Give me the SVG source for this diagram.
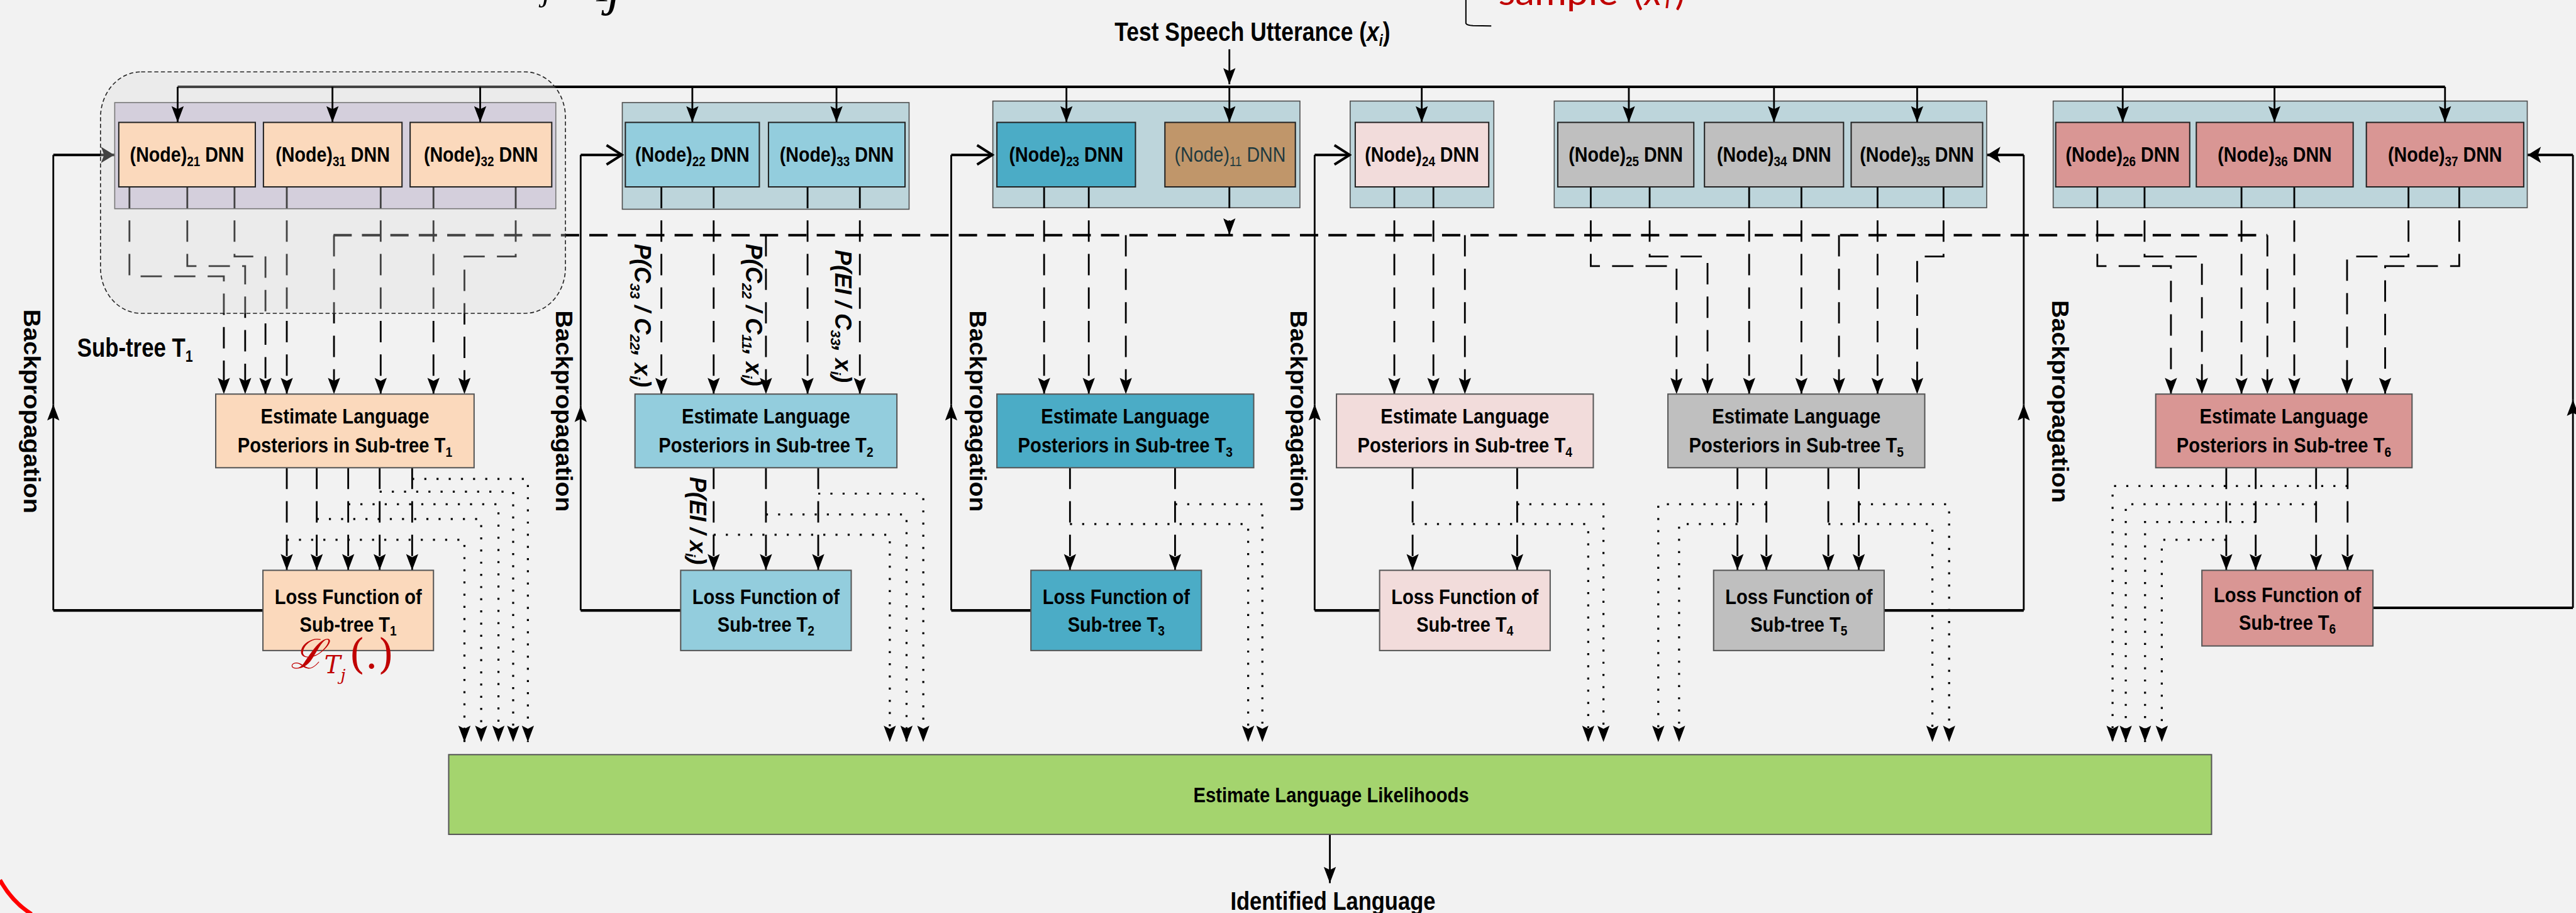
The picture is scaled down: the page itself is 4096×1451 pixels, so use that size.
<svg xmlns="http://www.w3.org/2000/svg" width="4096" height="1451" viewBox="0 0 4096 1451">
<defs>
<style>
.ct{fill:#BDD5DB;stroke:#4d4d4d;stroke-width:2}
.nd{stroke:#222;stroke-width:2.5}
.bx{stroke:#555;stroke-width:2.5}
.t{font-family:'Liberation Sans',Arial,sans-serif;font-weight:bold;font-size:41px;fill:#000}
.lbl{font-family:'Liberation Sans',Arial,sans-serif;font-weight:bold;font-style:italic;font-size:45px;fill:#000}
.bp{font-family:'Liberation Sans',Arial,sans-serif;font-weight:bold;font-size:46px;fill:#000}
.ln{fill:none;stroke:#000;stroke-width:3.5}
.up{fill:none;stroke:#000;stroke-width:3.5;marker-end:url(#ah)}
.arr{fill:none;stroke:#000;stroke-width:3.5;marker-end:url(#ah)}
.dsh{fill:none;stroke:#000;stroke-width:3.5;stroke-dasharray:42 24;marker-end:url(#ah)}
.dot{fill:none;stroke:#000;stroke-width:4;stroke-dasharray:4 20;marker-end:url(#ah)}
.thk{fill:none;stroke:#000;stroke-width:5}
.red{font-family:'DejaVu Serif','Liberation Serif',serif;font-style:italic;fill:#C00000}
</style>
<marker id="ah" markerUnits="userSpaceOnUse" viewBox="-34 -14 36 28" markerWidth="36" markerHeight="28" refX="0" refY="0" orient="auto"><path d="M0,0 L-32,-12 L-26,0 L-32,12 Z" fill="#000"/></marker>
<marker id="fa" markerUnits="userSpaceOnUse" viewBox="-30 -18 32 36" markerWidth="32" markerHeight="36" refX="0" refY="0" orient="auto"><path d="M0,0 L-26,-16 L-20,0 L-26,16 Z" fill="#000"/></marker>
<marker id="ch" markerUnits="userSpaceOnUse" viewBox="-36 -24 40 48" markerWidth="40" markerHeight="48" refX="0" refY="0" orient="auto"><path d="M-30,-19 L0,0 L-30,19" fill="none" stroke="#000" stroke-width="5"/></marker>
</defs>
<rect x="0" y="0" width="4096" height="1451" fill="#F2F2F2"/>
<g transform="scale(0.80709)">

<!-- top annotation fragments -->
<g id="annotations">
<text x="1068" y="1" font-family="'Liberation Serif',serif" font-style="italic" font-size="62" fill="#000">j</text>
<text x="1172" y="2" font-family="'Liberation Serif',serif" font-style="italic" font-size="62" fill="#000">1</text>
<text x="1196" y="9" font-family="'Liberation Serif',serif" font-style="italic" font-size="105" fill="#000">j</text>
<text x="2952" y="10" font-family="Lato,'Open Sans',sans-serif" font-size="72" fill="#C00000"><tspan textLength="236" lengthAdjust="spacingAndGlyphs">sample</tspan><tspan x="3218">(</tspan><tspan x="3240" font-style="italic">x</tspan><tspan x="3280" font-style="italic" font-size="50" dy="6">l</tspan><tspan x="3300" dy="-6">)</tspan></text>
<path d="M2888,0 V46 Q2890,50 2902,50.5 L2938,51" fill="none" stroke="#000" stroke-width="2.5"/>
<path d="M0,1733 Q24,1776 62,1800" fill="none" stroke="#FF0000" stroke-width="8"/>
</g>

<!-- containers -->
<g id="containers">
<rect x="226" y="202" width="869" height="209" fill="#D2CBDD" stroke="#4d4d4d" stroke-width="2"/>
<rect class="ct" x="1226" y="202" width="565" height="210"/>
<rect class="ct" x="1956" y="199" width="605" height="210"/>
<rect class="ct" x="2660" y="199" width="283" height="210"/>
<rect class="ct" x="3062" y="199" width="852" height="210"/>
<rect class="ct" x="4045" y="199" width="934" height="210"/>
</g>

<!-- connectors -->
<g id="connectors">
<path class="thk" d="M350,171 H4817"/>
<path class="arr" d="M2422,97 V166"/>
<path d="M657,463 H4467" fill="none" stroke="#000" stroke-width="5" stroke-dasharray="36 20"/>
<path class="dsh" d="M2422,368 V462"/>
<!-- nodes to estimates -->
<path class="dsh" d="M255,368 V544 H441 V776"/>
<path class="dsh" d="M369,368 V524 H483 V776"/>
<path class="dsh" d="M462,368 V505 H523 V776"/>
<path class="dsh" d="M565,368 V776"/>
<path class="dsh" d="M658,463 V776"/>
<path class="dsh" d="M750,368 V776"/>
<path class="dsh" d="M854,368 V776"/>
<path class="dsh" d="M1016,368 V505 H915 V776"/>
<path class="dsh" d="M1303,368 V776"/>
<path class="dsh" d="M1406,368 V776"/>
<path class="dsh" d="M1509,463 V776"/>
<path class="dsh" d="M1591,368 V776"/>
<path class="dsh" d="M1694,368 V776"/>
<path class="dsh" d="M2057,368 V776"/>
<path class="dsh" d="M2145,368 V776"/>
<path class="dsh" d="M2218,463 V776"/>
<path class="dsh" d="M2747,368 V776"/>
<path class="dsh" d="M2824,368 V776"/>
<path class="dsh" d="M2886,463 V776"/>
<path class="dsh" d="M3134,368 V524 H3303 V776"/>
<path class="dsh" d="M3250,368 V505 H3364 V776"/>
<path class="dsh" d="M3446,368 V776"/>
<path class="dsh" d="M3549,368 V776"/>
<path class="dsh" d="M3623,463 V776"/>
<path class="dsh" d="M3699,368 V776"/>
<path class="dsh" d="M3829,368 V505 H3777 V776"/>
<path class="dsh" d="M4132,368 V524 H4277 V776"/>
<path class="dsh" d="M4225,368 V505 H4338 V776"/>
<path class="dsh" d="M4416,368 V776"/>
<path class="dsh" d="M4467,463 V776"/>
<path class="dsh" d="M4520,368 V776"/>
<path class="dsh" d="M4745,368 V505 H4624 V776"/>
<path class="dsh" d="M4845,368 V524 H4699 V776"/>
<!-- estimates to losses -->
<path class="dsh" d="M565,921 V1123"/>
<path class="dsh" d="M624,921 V1123"/>
<path class="dsh" d="M686,921 V1123"/>
<path class="dsh" d="M748,921 V1123"/>
<path class="dsh" d="M812,921 V1123"/>
<path class="dsh" d="M1406,921 V1123"/>
<path class="dsh" d="M1509,921 V1123"/>
<path class="dsh" d="M1612,921 V1123"/>
<path class="dsh" d="M2108,921 V1123"/>
<path class="dsh" d="M2315,921 V1123"/>
<path class="dsh" d="M2783,921 V1123"/>
<path class="dsh" d="M2989,921 V1123"/>
<path class="dsh" d="M3423,921 V1123"/>
<path class="dsh" d="M3480,921 V1123"/>
<path class="dsh" d="M3602,921 V1123"/>
<path class="dsh" d="M3662,921 V1123"/>
<path class="dsh" d="M4386,921 V1123"/>
<path class="dsh" d="M4444,921 V1123"/>
<path class="dsh" d="M4563,921 V1123"/>
<path class="dsh" d="M4625,921 V1123"/>
<!-- dotted to likelihood -->
<path class="dot" d="M812,943 H1040 V1461"/>
<path class="dot" d="M748,968 H1011 V1461"/>
<path class="dot" d="M686,993 H982 V1461"/>
<path class="dot" d="M624,1022 H948 V1461"/>
<path class="dot" d="M565,1063 H915 V1461"/>
<path class="dot" d="M1612,972 H1819 V1461"/>
<path class="dot" d="M1509,1013 H1786 V1461"/>
<path class="dot" d="M1406,1053 H1753 V1461"/>
<path class="dot" d="M2315,993 H2487 V1461"/>
<path class="dot" d="M2108,1032 H2459 V1461"/>
<path class="dot" d="M2989,993 H3159 V1461"/>
<path class="dot" d="M2783,1032 H3129 V1461"/>
<path class="dot" d="M3480,993 H3267 V1461"/>
<path class="dot" d="M3423,1032 H3308 V1461"/>
<path class="dot" d="M3662,993 H3840 V1461"/>
<path class="dot" d="M3602,1032 H3807 V1461"/>
<path class="dot" d="M4625,957 H4162 V1461"/>
<path class="dot" d="M4563,993 H4188 V1461"/>
<path class="dot" d="M4444,1028 H4226 V1461"/>
<path class="dot" d="M4386,1063 H4259 V1461"/>
<path class="arr" d="M2620,1643 V1739"/>
<!-- backpropagation -->
<path class="thk" d="M518,1202 H105"/>
<path class="up" d="M105,1202 V796"/>
<path class="ln" d="M105,796 V305"/>
<path class="thk" d="M105,305 H225" marker-end="url(#fa)"/>
<path class="thk" d="M1341,1202 H1144"/>
<path class="up" d="M1144,1202 V799"/>
<path class="ln" d="M1144,799 V305"/>
<path class="thk" d="M1144,305 H1225" marker-end="url(#ch)"/>
<path class="thk" d="M2031,1202 H1874"/>
<path class="up" d="M1874,1202 V796"/>
<path class="ln" d="M1874,796 V305"/>
<path class="thk" d="M1874,305 H1955" marker-end="url(#ch)"/>
<path class="thk" d="M2718,1202 H2590"/>
<path class="up" d="M2590,1202 V796"/>
<path class="ln" d="M2590,796 V305"/>
<path class="thk" d="M2590,305 H2659" marker-end="url(#ch)"/>
<path class="thk" d="M3712,1202 H3987"/>
<path class="up" d="M3987,1202 V796"/>
<path class="ln" d="M3987,796 V305"/>
<path class="thk" d="M3987,305 H3915" marker-end="url(#fa)"/>
<path class="thk" d="M4675,1197 H5069"/>
<path class="up" d="M5069,1197 V787"/>
<path class="ln" d="M5069,787 V305"/>
<path class="thk" d="M5069,305 H4980" marker-end="url(#fa)"/>
</g>

<!-- sub-tree T1 grouping overlay -->
<g id="subtree-t1">
<rect x="198" y="141.5" width="916" height="475.5" rx="80" ry="90" fill="#D9D9D9" fill-opacity="0.3" stroke="#222" stroke-width="2" stroke-dasharray="8 5"/>
<text class="t" x="152" y="702" style="font-size:52px" textLength="228" lengthAdjust="spacingAndGlyphs">Sub-tree T<tspan dy="10" font-size="32">1</tspan></text>
</g>

<!-- bus arrows into nodes -->
<g id="bus-arrows">
<path class="arr" d="M350,171 V241"/>
<path class="arr" d="M655,171 V241"/>
<path class="arr" d="M946,171 V241"/>
<path class="arr" d="M1364,171 V241"/>
<path class="arr" d="M1648,171 V241"/>
<path class="arr" d="M2101,171 V241"/>
<path class="arr" d="M2422,171 V241"/>
<path class="arr" d="M2801,171 V241"/>
<path class="arr" d="M3209,171 V241"/>
<path class="arr" d="M3495,171 V241"/>
<path class="arr" d="M3777,171 V241"/>
<path class="arr" d="M4182,171 V241"/>
<path class="arr" d="M4481,171 V241"/>
<path class="arr" d="M4817,171 V241"/>
</g>

<g id="input-label"><text class="t" x="2196" y="81" style="font-size:52px" textLength="543" lengthAdjust="spacingAndGlyphs">Test Speech Utterance (<tspan font-style="italic">x</tspan><tspan font-style="italic" dy="9" font-size="32">i</tspan><tspan dy="-9">)</tspan></text></g>

<!-- DNN nodes -->
<g id="n21"><rect class="nd" x="234" y="241" width="269" height="127" fill="#FBD9BC"/><text class="t" x="256" y="319" textLength="225" lengthAdjust="spacingAndGlyphs">(Node)<tspan dy="8" font-size="27">21</tspan><tspan dy="-8"> DNN</tspan></text></g>
<g id="n31"><rect class="nd" x="519" y="241" width="273" height="127" fill="#FBD9BC"/><text class="t" x="543" y="319" textLength="225" lengthAdjust="spacingAndGlyphs">(Node)<tspan dy="8" font-size="27">31</tspan><tspan dy="-8"> DNN</tspan></text></g>
<g id="n32"><rect class="nd" x="808" y="241" width="279" height="127" fill="#FBD9BC"/><text class="t" x="835" y="319" textLength="225" lengthAdjust="spacingAndGlyphs">(Node)<tspan dy="8" font-size="27">32</tspan><tspan dy="-8"> DNN</tspan></text></g>
<g id="n22"><rect class="nd" x="1232" y="241" width="264" height="127" fill="#93CDDD"/><text class="t" x="1251.5" y="319" textLength="225" lengthAdjust="spacingAndGlyphs">(Node)<tspan dy="8" font-size="27">22</tspan><tspan dy="-8"> DNN</tspan></text></g>
<g id="n33"><rect class="nd" x="1514" y="241" width="269" height="127" fill="#93CDDD"/><text class="t" x="1536" y="319" textLength="225" lengthAdjust="spacingAndGlyphs">(Node)<tspan dy="8" font-size="27">33</tspan><tspan dy="-8"> DNN</tspan></text></g>
<g id="n23"><rect class="nd" x="1964" y="241" width="273" height="127" fill="#4BACC6"/><text class="t" x="1988" y="319" textLength="225" lengthAdjust="spacingAndGlyphs">(Node)<tspan dy="8" font-size="27">23</tspan><tspan dy="-8"> DNN</tspan></text></g>
<g id="n11"><rect class="nd" x="2295" y="241" width="257" height="127" fill="#C0966A"/><text class="t" x="2314" y="319" style="font-weight:normal;fill:#1F3A3F" textLength="219" lengthAdjust="spacingAndGlyphs">(Node)<tspan dy="8" font-size="27">11</tspan><tspan dy="-8"> DNN</tspan></text></g>
<g id="n24"><rect class="nd" x="2670" y="241" width="263" height="127" fill="#F2DCDB"/><text class="t" x="2689" y="319" textLength="225" lengthAdjust="spacingAndGlyphs">(Node)<tspan dy="8" font-size="27">24</tspan><tspan dy="-8"> DNN</tspan></text></g>
<g id="n25"><rect class="nd" x="3069" y="241" width="268" height="127" fill="#BFBFBF"/><text class="t" x="3090.5" y="319" textLength="225" lengthAdjust="spacingAndGlyphs">(Node)<tspan dy="8" font-size="27">25</tspan><tspan dy="-8"> DNN</tspan></text></g>
<g id="n34"><rect class="nd" x="3358" y="241" width="274" height="127" fill="#BFBFBF"/><text class="t" x="3382.5" y="319" textLength="225" lengthAdjust="spacingAndGlyphs">(Node)<tspan dy="8" font-size="27">34</tspan><tspan dy="-8"> DNN</tspan></text></g>
<g id="n35"><rect class="nd" x="3647" y="241" width="259" height="127" fill="#BFBFBF"/><text class="t" x="3664" y="319" textLength="225" lengthAdjust="spacingAndGlyphs">(Node)<tspan dy="8" font-size="27">35</tspan><tspan dy="-8"> DNN</tspan></text></g>
<g id="n26"><rect class="nd" x="4050" y="241" width="264" height="127" fill="#D99694"/><text class="t" x="4069.5" y="319" textLength="225" lengthAdjust="spacingAndGlyphs">(Node)<tspan dy="8" font-size="27">26</tspan><tspan dy="-8"> DNN</tspan></text></g>
<g id="n36"><rect class="nd" x="4327" y="241" width="309" height="127" fill="#D99694"/><text class="t" x="4369" y="319" textLength="225" lengthAdjust="spacingAndGlyphs">(Node)<tspan dy="8" font-size="27">36</tspan><tspan dy="-8"> DNN</tspan></text></g>
<g id="n37"><rect class="nd" x="4662" y="241" width="310" height="127" fill="#D99694"/><text class="t" x="4704.5" y="319" textLength="225" lengthAdjust="spacingAndGlyphs">(Node)<tspan dy="8" font-size="27">37</tspan><tspan dy="-8"> DNN</tspan></text></g>

<!-- estimate boxes -->
<g id="e1"><rect class="bx" x="425" y="776" width="509" height="145" fill="#FBD9BC"/><text class="t" x="513.5" y="834" textLength="332" lengthAdjust="spacingAndGlyphs">Estimate Language</text><text class="t" x="468" y="891" textLength="423" lengthAdjust="spacingAndGlyphs">Posteriors in Sub-tree T<tspan dy="8" font-size="27">1</tspan></text></g>
<g id="e2"><rect class="bx" x="1251" y="776" width="516" height="145" fill="#93CDDD"/><text class="t" x="1343" y="834" textLength="332" lengthAdjust="spacingAndGlyphs">Estimate Language</text><text class="t" x="1297.5" y="891" textLength="423" lengthAdjust="spacingAndGlyphs">Posteriors in Sub-tree T<tspan dy="8" font-size="27">2</tspan></text></g>
<g id="e3"><rect class="bx" x="1964" y="776" width="506" height="145" fill="#4BACC6"/><text class="t" x="2051" y="834" textLength="332" lengthAdjust="spacingAndGlyphs">Estimate Language</text><text class="t" x="2005.5" y="891" textLength="423" lengthAdjust="spacingAndGlyphs">Posteriors in Sub-tree T<tspan dy="8" font-size="27">3</tspan></text></g>
<g id="e4"><rect class="bx" x="2633" y="776" width="506" height="145" fill="#F2DCDB"/><text class="t" x="2720" y="834" textLength="332" lengthAdjust="spacingAndGlyphs">Estimate Language</text><text class="t" x="2674.5" y="891" textLength="423" lengthAdjust="spacingAndGlyphs">Posteriors in Sub-tree T<tspan dy="8" font-size="27">4</tspan></text></g>
<g id="e5"><rect class="bx" x="3286" y="776" width="506" height="145" fill="#BFBFBF"/><text class="t" x="3373" y="834" textLength="332" lengthAdjust="spacingAndGlyphs">Estimate Language</text><text class="t" x="3327.5" y="891" textLength="423" lengthAdjust="spacingAndGlyphs">Posteriors in Sub-tree T<tspan dy="8" font-size="27">5</tspan></text></g>
<g id="e6"><rect class="bx" x="4247" y="776" width="505" height="145" fill="#D99694"/><text class="t" x="4333.5" y="834" textLength="332" lengthAdjust="spacingAndGlyphs">Estimate Language</text><text class="t" x="4288" y="891" textLength="423" lengthAdjust="spacingAndGlyphs">Posteriors in Sub-tree T<tspan dy="8" font-size="27">6</tspan></text></g>

<!-- loss boxes -->
<g id="l1"><rect class="bx" x="518" y="1123" width="336" height="158" fill="#FBD9BC"/><text class="t" x="541" y="1190" textLength="290" lengthAdjust="spacingAndGlyphs">Loss Function of</text><text class="t" x="590.5" y="1244" textLength="191" lengthAdjust="spacingAndGlyphs">Sub-tree T<tspan dy="8" font-size="27">1</tspan></text></g>
<g id="l2"><rect class="bx" x="1341" y="1123" width="336" height="158" fill="#93CDDD"/><text class="t" x="1364" y="1190" textLength="290" lengthAdjust="spacingAndGlyphs">Loss Function of</text><text class="t" x="1413.5" y="1244" textLength="191" lengthAdjust="spacingAndGlyphs">Sub-tree T<tspan dy="8" font-size="27">2</tspan></text></g>
<g id="l3"><rect class="bx" x="2031" y="1123" width="336" height="158" fill="#4BACC6"/><text class="t" x="2054" y="1190" textLength="290" lengthAdjust="spacingAndGlyphs">Loss Function of</text><text class="t" x="2103.5" y="1244" textLength="191" lengthAdjust="spacingAndGlyphs">Sub-tree T<tspan dy="8" font-size="27">3</tspan></text></g>
<g id="l4"><rect class="bx" x="2718" y="1123" width="336" height="158" fill="#F2DCDB"/><text class="t" x="2741" y="1190" textLength="290" lengthAdjust="spacingAndGlyphs">Loss Function of</text><text class="t" x="2790.5" y="1244" textLength="191" lengthAdjust="spacingAndGlyphs">Sub-tree T<tspan dy="8" font-size="27">4</tspan></text></g>
<g id="l5"><rect class="bx" x="3376" y="1123" width="336" height="158" fill="#BFBFBF"/><text class="t" x="3399" y="1190" textLength="290" lengthAdjust="spacingAndGlyphs">Loss Function of</text><text class="t" x="3448.5" y="1244" textLength="191" lengthAdjust="spacingAndGlyphs">Sub-tree T<tspan dy="8" font-size="27">5</tspan></text></g>
<g id="l6"><rect class="bx" x="4338" y="1123" width="337" height="149" fill="#D99694"/><text class="t" x="4361.5" y="1186" textLength="290" lengthAdjust="spacingAndGlyphs">Loss Function of</text><text class="t" x="4411" y="1240" textLength="191" lengthAdjust="spacingAndGlyphs">Sub-tree T<tspan dy="8" font-size="27">6</tspan></text></g>

<!-- likelihood -->
<g id="likelihoods"><rect x="884" y="1486" width="3473" height="157" fill="#A4D46E" stroke="#555" stroke-width="2.5"/><text class="t" x="2351" y="1580" textLength="543" lengthAdjust="spacingAndGlyphs">Estimate Language Likelihoods</text></g>
<g id="identified"><text class="t" x="2424" y="1792" style="font-size:51px" textLength="404" lengthAdjust="spacingAndGlyphs">Identified Language</text></g>

<!-- rotated labels -->
<g id="labels">
<text class="lbl" transform="translate(1250,480) rotate(90)">P(C<tspan dy="8" font-size="28">33</tspan><tspan dy="-8"> / C</tspan><tspan dy="8" font-size="28">22</tspan><tspan dy="-8">, x</tspan><tspan dy="8" font-size="28">i</tspan><tspan dy="-8">)</tspan></text>
<text class="lbl" transform="translate(1470,480) rotate(90)">P(C<tspan dy="8" font-size="28">22</tspan><tspan dy="-8"> / C</tspan><tspan dy="8" font-size="28">11</tspan><tspan dy="-8">, x</tspan><tspan dy="8" font-size="28">i</tspan><tspan dy="-8">)</tspan></text>
<text class="lbl" transform="translate(1645,492) rotate(90)">P(EI / C<tspan dy="8" font-size="28">33</tspan><tspan dy="-8">, x</tspan><tspan dy="8" font-size="28">i</tspan><tspan dy="-8">)</tspan></text>
<text class="lbl" transform="translate(1359,939) rotate(90)">P(EI / x<tspan dy="8" font-size="28">i</tspan><tspan dy="-8">)</tspan></text>
<text class="bp" transform="translate(47,609) rotate(90)" textLength="402" lengthAdjust="spacingAndGlyphs">Backpropagation</text>
<text class="bp" transform="translate(1095,611) rotate(90)" textLength="397" lengthAdjust="spacingAndGlyphs">Backpropagation</text>
<text class="bp" transform="translate(1910,611) rotate(90)" textLength="397" lengthAdjust="spacingAndGlyphs">Backpropagation</text>
<text class="bp" transform="translate(2542,611) rotate(90)" textLength="397" lengthAdjust="spacingAndGlyphs">Backpropagation</text>
<text class="bp" transform="translate(4043,591) rotate(90)" textLength="399" lengthAdjust="spacingAndGlyphs">Backpropagation</text>
</g>

<g id="loss-annotation"><text class="red" x="572" y="1316" font-size="80">ℒ<tspan font-size="48" dy="10">T</tspan><tspan font-size="32" dy="14">j</tspan><tspan x="688" dy="-24" font-style="normal">(.)</tspan></text></g>
</g>
</svg>
